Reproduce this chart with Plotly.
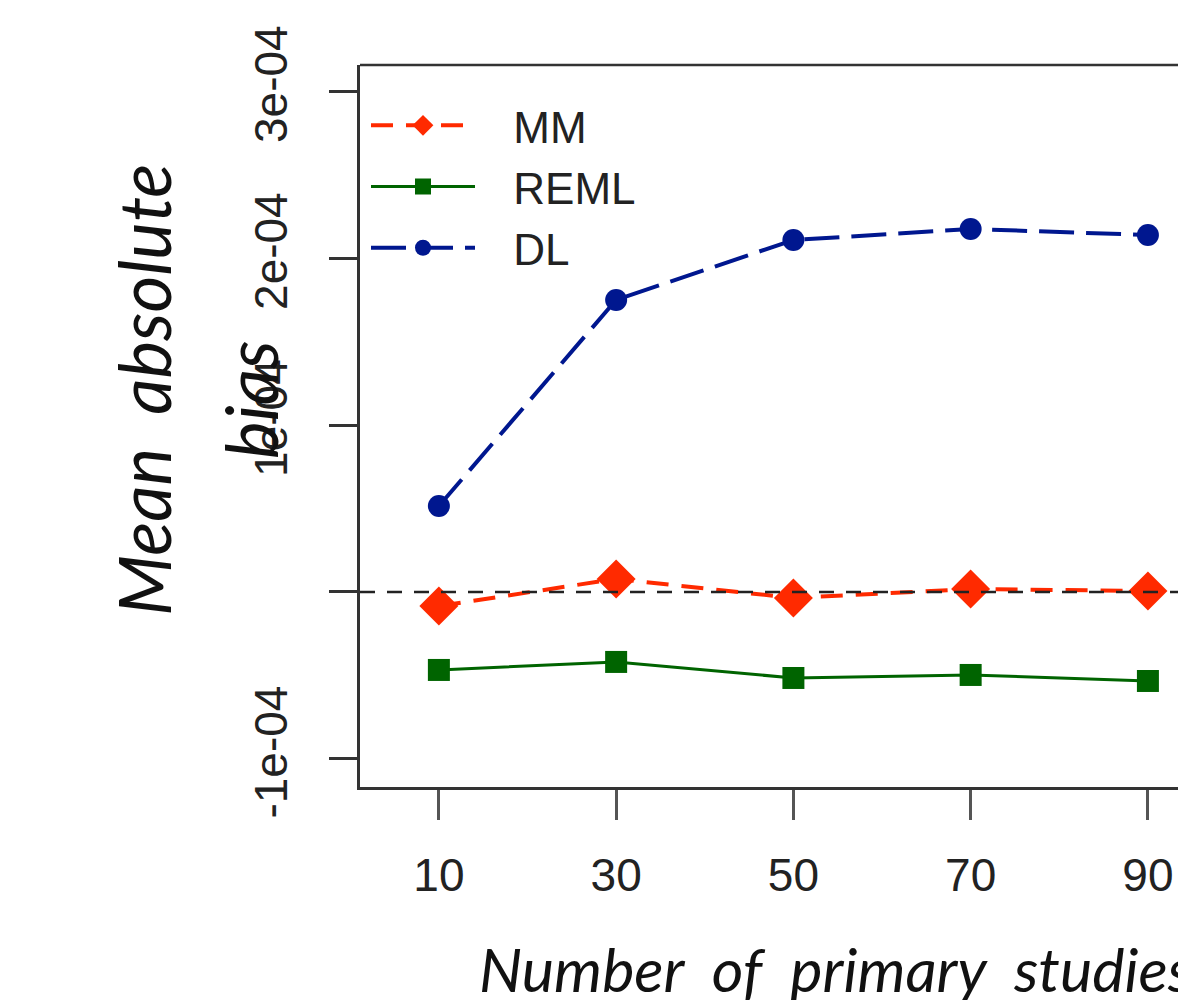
import plotly.graph_objects as go

n_studies = [10, 30, 50, 70, 90]
mm_bias = [-0.84e-05, 0.78e-05, -0.36e-05, 0.18e-05, 0.06e-05]
reml_bias = [-4.67e-05, -4.19e-05, -5.15e-05, -4.97e-05, -5.33e-05]
dl_bias = [5.15e-05, 1.749e-04, 2.108e-04, 2.174e-04, 2.138e-04]

y_tickvals = [-1e-04, 0, 1e-04, 2e-04, 3e-04]
y_ticktext = ["-1e-04", "", "1e-04", "2e-04", "3e-04"]
x_tickvals = [10, 30, 50, 70, 90]

W, H = 1186, 1000
L, T, B, R = 352, 57, 221, 0
PW, PH = W - L - R, H - T - B


def px(x):
    return (x - L) / PW


def py(y):
    return (H - B - y) / PH


NB = "\u00a0\u00a0\u2009"
fig = go.Figure()
fig.add_trace(go.Scatter(
    x=n_studies, y=mm_bias, name=NB + "MM", mode="lines+markers", legendgroup="a",
    line=dict(color="#ff2a00", width=4, dash="22px,13px"),
    marker=dict(symbol="diamond", size=30, color="#ff2a00"),
))
fig.add_trace(go.Scatter(
    x=n_studies, y=reml_bias, name=NB + "REML", mode="lines+markers", legendgroup="b",
    line=dict(color="#006400", width=3),
    marker=dict(symbol="square", size=22, color="#006400"),
))
fig.add_trace(go.Scatter(
    x=n_studies, y=dl_bias, name=NB + "DL", mode="lines+markers", legendgroup="c",
    line=dict(color="#00178f", width=4, dash="35px,12px"),
    marker=dict(symbol="circle", size=22, color="#00178f"),
))

fig.add_hline(y=0, line=dict(color="#222222", width=2.5, dash="15px,12px"), layer="above")

# frame: top line (left and bottom are axis lines)
fig.add_shape(type="line", xref="paper", yref="paper", x0=0, x1=1, y0=1, y1=1,
              line=dict(color="#333333", width=2.5))

fig.update_layout(
    width=W, height=H,
    margin=dict(l=L, r=R, t=T, b=B),
    paper_bgcolor="white", plot_bgcolor="white",
    font=dict(family="Liberation Sans, Arial, sans-serif", color="#222222"),
    showlegend=True,
    legend=dict(
        x=6 / PW, y=0.965, xanchor="left", yanchor="top",
        font=dict(size=44, family="Liberation Sans, Arial, sans-serif", color="#222222"),
        itemwidth=104, bgcolor="rgba(0,0,0,0)", tracegroupgap=1,
    ),
    xaxis=dict(
        range=[1.1, 95.2], tickvals=x_tickvals, showgrid=False, zeroline=False,
        showline=True, linecolor="#333333", linewidth=2.5,
        ticks="outside", ticklen=30, tickwidth=2.5, tickcolor="#555555",
        tickfont=dict(size=46), ticklabelstandoff=16,
    ),
    yaxis=dict(
        range=[-1.168e-04, 3.156e-04], tickvals=y_tickvals, ticktext=y_ticktext,
        showgrid=False, zeroline=False, showline=True, linecolor="#333333", linewidth=2.5,
        ticks="outside", ticklen=28, tickwidth=2.5, tickcolor="#333333",
        tickangle=-90, tickfont=dict(size=46), ticklabelstandoff=24,
    ),
)

title_font = dict(family="Lato, Open Sans, sans-serif", size=71, style="italic", color="#111111")
fig.add_annotation(
    text="Mean  absolute", xref="paper", yref="paper",
    x=px(135), y=py(382), xanchor="center", yanchor="middle",
    showarrow=False, textangle=-90, font=title_font,
)
fig.add_annotation(
    text="bias", xref="paper", yref="paper",
    x=px(242), y=py(392), xanchor="center", yanchor="middle",
    showarrow=False, textangle=-90, font=title_font,
)
fig.add_annotation(
    text="Number  of  primary  studies", xref="paper", yref="paper",
    x=px(469), y=py(960), xanchor="left", yanchor="middle", showarrow=False,
    font=dict(family="Lato, Open Sans, sans-serif", size=61, style="italic", color="#111111"),
)

fig.write_html("out.html")
